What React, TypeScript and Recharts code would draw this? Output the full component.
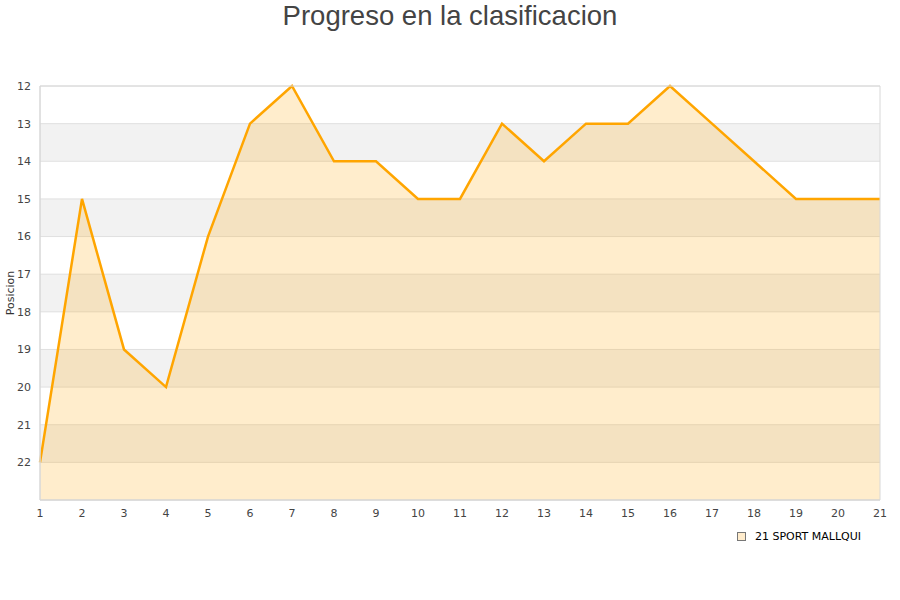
import React from 'react';
import { AreaChart, Area, XAxis, YAxis, CartesianGrid, ReferenceArea } from 'recharts';

const jornadas = [1, 2, 3, 4, 5, 6, 7, 8, 9, 10, 11, 12, 13, 14, 15, 16, 17, 18, 19, 20, 21];
const posiciones = [22, 15, 19, 20, 16, 13, 12, 14, 14, 15, 15, 13, 14, 13, 13, 12, 13, 14, 15, 15, 15];
const yTicks = [12, 13, 14, 15, 16, 17, 18, 19, 20, 21, 22, 23];
const teamName = '21 SPORT MALLQUI';

const chartData = jornadas.map((j, i) => ({ jornada: j, pos: posiciones[i] }));

const tickStyle = { fill: '#444', fontSize: 11, fontFamily: 'DejaVu Sans, sans-serif' };

const App: React.FC = () => {
  return (
    <div style={{ position: 'absolute', left: 0, top: 0, width: 900, height: 600, background: '#fff' }}>
      <div
        style={{
          position: 'absolute',
          top: 0,
          left: 0,
          width: 900,
          textAlign: 'center',
          fontFamily: 'Liberation Sans, Arial, sans-serif',
          fontSize: 27.5,
          color: '#444',
          lineHeight: '32px',
        }}
      >
        Progreso en la clasificacion
      </div>
      <AreaChart width={900} height={600} data={chartData} margin={{ top: 86, right: 20, left: 10, bottom: 70 }}>
        <CartesianGrid vertical={false} stroke="#e0e0e0" horizontalFill={['#ffffff', '#f2f2f2']} fillOpacity={1} />
        <XAxis
          dataKey="jornada"
          type="number"
          domain={[1, 21]}
          ticks={jornadas}
          tickLine={false}
          axisLine={{ stroke: '#d8d8d8' }}
          tick={tickStyle}
          tickMargin={3}
          height={30}
        />
        <YAxis
          type="number"
          domain={[12, 23]}
          reversed
          ticks={yTicks}
          interval={0}
          tickFormatter={(v: number) => (v === 23 ? '' : String(v))}
          tickLine={false}
          axisLine={{ stroke: '#d8d8d8' }}
          tick={tickStyle}
          tickMargin={3}
          width={30}
          label={{
            value: 'Posicion',
            angle: -90,
            position: 'insideLeft',
            offset: 0,
            style: { fill: '#333', fontSize: 11, fontFamily: 'DejaVu Sans, sans-serif', textAnchor: 'middle' },
          }}
        />
        <Area
          type="linear"
          dataKey="pos"
          baseValue="dataMax"
          stroke="#ffa500"
          strokeWidth={2.5}
          fill="#ffa500"
          fillOpacity={0.2}
          dot={false}
          activeDot={false}
          isAnimationActive={false}
        />
        <ReferenceArea x1={1} x2={21} y1={12} y2={23} fill="none" stroke="#d8d8d8" strokeWidth={1} />
      </AreaChart>
      <div
        style={{
          position: 'absolute',
          left: 737,
          top: 530,
          display: 'flex',
          alignItems: 'center',
          fontFamily: 'DejaVu Sans, sans-serif',
          fontSize: 11,
          color: '#000',
        }}
      >
        <span
          style={{
            display: 'inline-block',
            width: 7,
            height: 7,
            background: '#ffeccc',
            border: '1px solid #777',
            marginRight: 9,
          }}
        />
        {teamName}
      </div>
    </div>
  );
};

export default App;
